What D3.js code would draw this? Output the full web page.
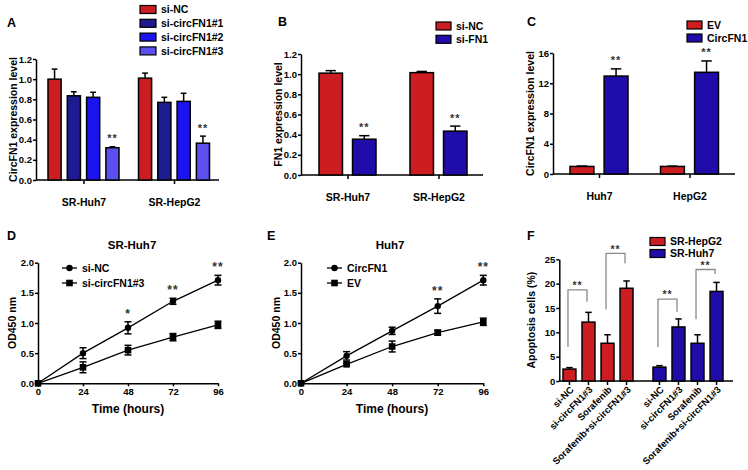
<!DOCTYPE html>
<html><head><meta charset="utf-8">
<script src="https://cdn.jsdelivr.net/npm/d3@7"></script>
<style>
body{margin:0;background:#fff}
svg{display:block}
svg text{font-family:"Liberation Sans",Arial,sans-serif;font-weight:bold}
</style></head><body>
<svg id="c" width="748" height="470"></svg>
<script>
// ---------- DATA ----------
const aGroups = ["SR-Huh7","SR-HepG2"];
const aSeries = ["si-NC","si-circFN1#1","si-circFN1#2","si-circFN1#3"];
const aValues = [[1.00,0.835,0.82,0.32],[1.01,0.77,0.78,0.365]];
const aErrors = [[0.10,0.04,0.05,0.01],[0.05,0.05,0.08,0.07]];
const aStars  = [["","","","**"],["","","","**"]];
const aTicks  = [0,0.2,0.4,0.6,0.8,1.0,1.2];

const bGroups = ["SR-Huh7","SR-HepG2"];
const bSeries = ["si-NC","si-FN1"];
const bValues = [[1.01,0.355],[1.015,0.435]];
const bErrors = [[0.025,0.035],[0.012,0.05]];
const bStars  = [["","**"],["","**"]];
const bTicks  = [0,0.2,0.4,0.6,0.8,1.0,1.2];

const cGroups = ["Huh7","HepG2"];
const cSeries = ["EV","CircFN1"];
const cValues = [[1.0,12.95],[1.0,13.45]];
const cErrors = [[0.05,0.95],[0.04,1.5]];
const cStars  = [["","**"],["","**"]];
const cTicks  = [0,4,8,12,16];

const timePoints = [0,24,48,72,96];
const odTicks = [0,0.5,1.0,1.5,2.0];
const dSeries = ["si-NC","si-circFN1#3"];
const dValues = [[0,0.50,0.92,1.36,1.71],[0,0.265,0.55,0.765,0.97]];
const dErrors = [[0,0.09,0.10,0.05,0.08],[0,0.09,0.08,0.06,0.06]];
const dStars  = ["","","*","**","**"];

const eSeries = ["CircFN1","EV"];
const eValues = [[0,0.455,0.87,1.28,1.71],[0,0.315,0.61,0.84,1.02]];
const eErrors = [[0,0.07,0.06,0.12,0.08],[0,0.02,0.09,0.04,0.06]];
const eStars  = ["","","","**","**"];

const fGroups = ["SR-HepG2","SR-Huh7"];
const fTreatments = ["si-NC","si-circFN1#3","Sorafenib","Sorafenib+si-circFN1#3"];
const fValues = [[2.45,12.1,7.75,19.05],[2.85,11.1,7.75,18.4]];
const fErrors = [[0.3,2.0,1.75,1.5],[0.3,1.65,1.75,1.85]];
const fTicks  = [0,5,10,15,20,25];
const fBrackets = [
  {group:0, from:0, to:1, top:18.7, left:7.0, right:16.3, label:"**"},
  {group:0, from:2, to:3, top:26.2, left:14.7, right:24.2, label:"**"},
  {group:1, from:0, to:1, top:16.8, left:7.0, right:14.2, label:"**"},
  {group:1, from:2, to:3, top:22.9, left:12.7, right:22.0, label:"**"}
];

// ---------- STYLE ----------
const RED = "#cb1d22", BLUE = "#200ca8";
const aColors = [RED,"#1d1b8f","#1b14ee","#5b4ff0"];

const svg = d3.select("#c");

function styleAxis(sel, fs){
  sel.attr("font-size", fs || 9.5);
  sel.selectAll("path,line").attr("stroke","#000").attr("stroke-width",1.5);
  sel.selectAll("text").attr("fill","#000");
}
function yTitle(text, cx, cy, fs){
  svg.append("text").attr("transform",`translate(${cx},${cy}) rotate(-90)`)
    .attr("text-anchor","middle").attr("dy","0.35em").attr("font-size",fs||10.5).text(text);
}
function panelLetter(t,x,y){
  svg.append("text").attr("x",x).attr("y",y).attr("font-size",12.5).text(t);
}
function stars(g,t,x,yc,fs){
  g.append("text").attr("x",x).attr("y",yc).attr("dy","0.5em").attr("text-anchor","middle")
   .attr("font-size",fs||11).attr("fill","#333").attr("letter-spacing","1px").text(t);
}

function barPanel(o){
  const g = svg.append("g");
  const y = d3.scaleLinear().domain([0,o.max]).range([o.y0,o.y1]);
  const gx = d3.scalePoint().domain(o.groups).range(o.centers);
  const sx = d3.scaleBand().domain(o.series).range([-o.half,o.half]).paddingInner(o.pad);
  const bw = sx.bandwidth();
  g.append("line").attr("x1",o.x0).attr("x2",o.x1).attr("y1",o.y0).attr("y2",o.y0)
    .attr("stroke","#000").attr("stroke-width",1.5);
  const xa = g.append("g").attr("transform",`translate(0,${o.y0})`)
    .call(d3.axisBottom(gx).tickSize(4).tickPadding(15).tickSizeOuter(0));
  xa.select(".domain").remove();
  styleAxis(xa,10.5);
  const ya = g.append("g").attr("transform",`translate(${o.x0},0)`)
    .call(d3.axisLeft(y).tickValues(o.ticks).tickFormat(o.fmt).tickSize(3).tickPadding(1).tickSizeOuter(0));
  styleAxis(ya,9.5);
  o.groups.forEach((grp,gi)=>{
    o.series.forEach((s,si)=>{
      const v=o.values[gi][si], e=o.errors[gi][si];
      const cx = gx(grp)+sx(s)+bw/2;
      g.append("line").attr("x1",cx).attr("x2",cx).attr("y1",y(v)).attr("y2",y(v+e))
        .attr("stroke","#000").attr("stroke-width",1.5);
      g.append("line").attr("x1",cx-bw*0.22).attr("x2",cx+bw*0.22).attr("y1",y(v+e)).attr("y2",y(v+e))
        .attr("stroke","#000").attr("stroke-width",1.5);
      g.append("rect").attr("x",cx-bw/2).attr("y",y(v)).attr("width",bw).attr("height",y(0)-y(v))
        .attr("fill",o.colors[si]).attr("stroke","#000").attr("stroke-width",1.5);
      if(o.stars[gi][si]) stars(g,o.stars[gi][si],cx,y(v+e)-10);
    });
  });
  const L=o.legend;
  o.series.forEach((s,i)=>{
    g.append("rect").attr("x",L.x).attr("y",L.y+i*L.dy-L.h/2).attr("width",L.w).attr("height",L.h)
      .attr("fill",o.colors[i]).attr("stroke","#000").attr("stroke-width",1.2);
    g.append("text").attr("x",L.x+L.w+5).attr("y",L.y+i*L.dy).attr("dy","0.36em")
      .attr("font-size",10.5).text(s);
  });
  yTitle(o.ytitle,o.ytx,(o.y0+o.y1)/2);
}

barPanel({x0:36,x1:219,y0:180,y1:59,centers:[83.5,174],half:35.5,pad:0.32,max:1.2,
  ticks:aTicks,fmt:d3.format(".1f"),groups:aGroups,series:aSeries,values:aValues,errors:aErrors,stars:aStars,
  colors:aColors,legend:{x:140,y:9.5,dy:13.8,w:16,h:8},ytitle:"CircFN1 expression level",ytx:13});
barPanel({x0:301,x1:483,y0:175,y1:54,centers:[347.5,438.5],half:28.5,pad:0.3,max:1.2,
  ticks:bTicks,fmt:d3.format(".1f"),groups:bGroups,series:bSeries,values:bValues,errors:bErrors,stars:bStars,
  colors:[RED,BLUE],legend:{x:436,y:26,dy:13.3,w:15,h:8},ytitle:"FN1 expression level",ytx:278});
barPanel({x0:553,x1:735,y0:174,y1:53,centers:[599,689.5],half:29,pad:0.3,max:16,
  ticks:cTicks,fmt:d3.format("d"),groups:cGroups,series:cSeries,values:cValues,errors:cErrors,stars:cStars,
  colors:[RED,BLUE],legend:{x:687,y:25,dy:13,w:15,h:8},ytitle:"CircFN1 expression level",ytx:530});

function linePanel(o){
  const g = svg.append("g");
  const x = d3.scaleLinear().domain([0,96]).range([o.x0,o.x1]);
  const y = d3.scaleLinear().domain([0,2]).range([o.y0,o.y1]);
  const xa = g.append("g").attr("transform",`translate(0,${o.y0})`)
    .call(d3.axisBottom(x).tickValues(timePoints).tickFormat(d3.format("d")).tickSize(3).tickPadding(2).tickSizeOuter(0));
  styleAxis(xa,9.5);
  const ya = g.append("g").attr("transform",`translate(${o.x0},0)`)
    .call(d3.axisLeft(y).tickValues(odTicks).tickFormat(d3.format(".1f")).tickSize(3).tickPadding(1).tickSizeOuter(0));
  styleAxis(ya,9.5);
  const line = d3.line().x((d,i)=>x(timePoints[i])).y(d=>y(d));
  function marker(sel,kind,cx,cy){
    if(kind===0) sel.append("circle").attr("cx",cx).attr("cy",cy).attr("r",3.2).attr("fill","#000");
    else sel.append("rect").attr("x",cx-3.3).attr("y",cy-3.3).attr("width",6.6).attr("height",6.6).attr("fill","#000");
  }
  o.values.forEach((vals,si)=>{
    g.append("path").attr("d",line(vals)).attr("fill","none").attr("stroke","#000").attr("stroke-width",1.3);
    vals.forEach((v,i)=>{
      const e=o.errors[si][i], cx=x(timePoints[i]);
      if(e>0){
        g.append("line").attr("x1",cx).attr("x2",cx).attr("y1",y(v-e)).attr("y2",y(v+e)).attr("stroke","#000").attr("stroke-width",1.5);
        [v-e,v+e].forEach(w=>g.append("line").attr("x1",cx-3.5).attr("x2",cx+3.5).attr("y1",y(w)).attr("y2",y(w)).attr("stroke","#000").attr("stroke-width",1.5));
      }
      marker(g,si,cx,y(v));
    });
  });
  o.stars.forEach((s,i)=>{
    if(!s) return;
    const top = d3.max(o.values.map((vals,si)=>vals[i]+o.errors[si][i]));
    stars(g,s,x(timePoints[i]),y(top)-10,12);
  });
  o.series.forEach((s,i)=>{
    const ly=o.ly+i*15;
    g.append("line").attr("x1",o.lx).attr("x2",o.lx+15).attr("y1",ly).attr("y2",ly).attr("stroke","#000").attr("stroke-width",1.3);
    marker(g,i,o.lx+7.5,ly);
    g.append("text").attr("x",o.lx+20).attr("y",ly).attr("dy","0.36em").attr("font-size",10.5).text(s);
  });
  g.append("text").attr("x",o.titleX).attr("y",249).attr("text-anchor","middle").attr("font-size",11.5).text(o.title);
  g.append("text").attr("x",o.timeX).attr("y",412.5).attr("text-anchor","middle").attr("font-size",12).text("Time (hours)");
  yTitle("OD450 nm",o.ytx,(o.y0+o.y1)/2);
}

linePanel({x0:38,x1:218,y0:383.3,y1:262.7,values:dValues,errors:dErrors,stars:dStars,series:dSeries,
  lx:62,ly:268,title:"SR-Huh7",titleX:132,timeX:128,ytx:12.5});
linePanel({x0:301,x1:483.3,y0:383.3,y1:262.7,values:eValues,errors:eErrors,stars:eStars,series:eSeries,
  lx:327,ly:268,title:"Huh7",titleX:390,timeX:392,ytx:276});

// ---------- Panel F ----------
(function(){
  const x0=559.3,x1=733,y0=381,y1=259.3;
  const g = svg.append("g");
  const y = d3.scaleLinear().domain([0,25]).range([y0,y1]);
  const gx = d3.scalePoint().domain(fGroups).range([598,688]);
  const sx = d3.scaleBand().domain(fTreatments).range([-35,35]).paddingInner(0.32);
  const bw = sx.bandwidth();
  const cxOf=(gi,ti)=>gx(fGroups[gi])+sx(fTreatments[ti])+bw/2;
  g.append("line").attr("x1",x0).attr("x2",x1).attr("y1",y0).attr("y2",y0).attr("stroke","#000").attr("stroke-width",1.5);
  const ya = g.append("g").attr("transform",`translate(${x0},0)`)
    .call(d3.axisLeft(y).tickValues(fTicks).tickFormat(d3.format("d")).tickSize(3).tickPadding(1).tickSizeOuter(0));
  styleAxis(ya,9.5);
  fGroups.forEach((grp,gi)=>{
    fTreatments.forEach((t,ti)=>{
      const v=fValues[gi][ti], e=fErrors[gi][ti], cx=cxOf(gi,ti);
      g.append("line").attr("x1",cx).attr("x2",cx).attr("y1",y0).attr("y2",y0+4).attr("stroke","#000").attr("stroke-width",1.5);
      g.append("text").attr("transform",`translate(${cx+2.5},${y0+7}) rotate(-45)`)
        .attr("text-anchor","end").attr("dy","0.35em").attr("font-size",9.5).text(t);
      g.append("line").attr("x1",cx).attr("x2",cx).attr("y1",y(v)).attr("y2",y(v+e)).attr("stroke","#000").attr("stroke-width",1.5);
      g.append("line").attr("x1",cx-bw*0.25).attr("x2",cx+bw*0.25).attr("y1",y(v+e)).attr("y2",y(v+e)).attr("stroke","#000").attr("stroke-width",1.5);
      g.append("rect").attr("x",cx-bw/2).attr("y",y(v)).attr("width",bw).attr("height",y(0)-y(v))
        .attr("fill",gi===0?RED:BLUE).attr("stroke","#000").attr("stroke-width",1.5);
    });
  });
  fBrackets.forEach(b=>{
    const xl=cxOf(b.group,b.from)-1.5, xr=cxOf(b.group,b.to)-1.5;
    g.append("path").attr("d",`M${xl},${y(b.left)}V${y(b.top)}H${xr}V${y(b.right)}`)
      .attr("fill","none").attr("stroke","#8a8a8a").attr("stroke-width",1.3);
    stars(g,b.label,(xl+xr)/2,y(b.top)-6,10.5);
  });
  fGroups.forEach((s,i)=>{
    const ly=241.5+i*12;
    g.append("rect").attr("x",650).attr("y",ly-4).attr("width",15).attr("height",8)
      .attr("fill",i===0?RED:BLUE).attr("stroke","#000").attr("stroke-width",1.2);
    g.append("text").attr("x",670).attr("y",ly).attr("dy","0.36em").attr("font-size",10.5).text(s);
  });
  yTitle("Apoptosis cells (%)",531,(y0+y1)/2);
})();

panelLetter("A",7,27);
panelLetter("B",278,25.5);
panelLetter("C",527,26);
panelLetter("D",7,240);
panelLetter("E",267,240);
panelLetter("F",527,240);
</script>
</body></html>
